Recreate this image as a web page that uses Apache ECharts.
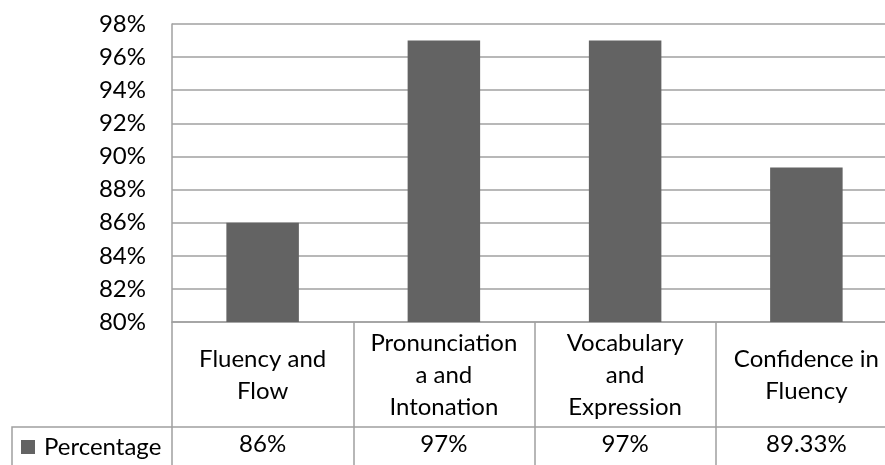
<!DOCTYPE html>
<html>
<head>
<meta charset="utf-8">
<script src="https://cdn.jsdelivr.net/npm/echarts@6/dist/echarts.min.js"></script>
<style>
html,body{margin:0;padding:0;background:#fff;}
#c{width:885px;height:465px;}
</style>
</head>
<body>
<div id="c"></div>
<script>
var categories = ['Fluency and\nFlow', 'Pronunciation\na and\nIntonation', 'Vocabulary\nand\nExpression', 'Confidence in\nFluency'];
var seriesName = 'Percentage';
var values = [86, 97, 97, 89.33];
var yTicks = {min: 80, max: 98, interval: 2};

var FONT = 'Lato';
var FS = 24;
var LINE = '#A0A0A0';

var chart = echarts.init(document.getElementById('c'), null, {renderer: 'canvas'});
chart.setOption({
  animation: false,
  backgroundColor: '#ffffff',
  textStyle: {fontFamily: FONT},
  grid: [
    {left: 172, top: 24, width: 725, height: 298, containLabel: false, outerBoundsMode: 'none'},
    {left: 12, top: 427, width: 900, height: 80, outerBoundsMode: 'none', show: true, borderColor: LINE, borderWidth: 1.5, backgroundColor: 'transparent'}
  ],
  legend: {
    data: [seriesName],
    left: 21, top: 432, padding: 0,
    icon: 'rect', itemWidth: 14, itemHeight: 14,
    textStyle: {fontFamily: FONT, fontSize: FS, color: '#000', lineHeight: 30, padding: [0,0,0,4]}
  },
  xAxis: [
    {
      type: 'category', gridIndex: 0, data: categories, boundaryGap: true,
      axisLine: {show: true, lineStyle: {color: LINE, width: 1.5}},
      axisTick: {show: true, length: 150, lineStyle: {color: LINE, width: 1.5}},
      axisLabel: {interval: 0, margin: 53, verticalAlign: 'middle', align: 'center',
        fontFamily: FONT, fontSize: FS, color: '#000', lineHeight: 32},
      splitLine: {show: false}
    },
    {
      type: 'category', gridIndex: 0, position: 'bottom', data: categories,
      axisLine: {show: false}, axisTick: {show: false},
      axisLabel: {interval: 0, margin: 122, verticalAlign: 'middle', align: 'center',
        fontFamily: FONT, fontSize: FS, color: '#000',
        formatter: function (v, i) { return values[i] + '%'; }},
      splitLine: {show: false}
    }
  ],
  yAxis: [{
    type: 'value', gridIndex: 0, min: yTicks.min, max: yTicks.max, interval: yTicks.interval,
    axisLine: {show: true, lineStyle: {color: LINE, width: 1.5}},
    axisTick: {show: false},
    axisLabel: {margin: 26, fontFamily: FONT, fontSize: FS, color: '#000', formatter: '{value}%'},
    splitLine: {show: true, lineStyle: {color: LINE, width: 1.5}}
  }],
  series: [{
    name: seriesName, type: 'bar', xAxisIndex: 0, yAxisIndex: 0,
    data: values, barWidth: '40%',
    itemStyle: {color: '#636363'}
  }]
});
</script>
</body>
</html>
